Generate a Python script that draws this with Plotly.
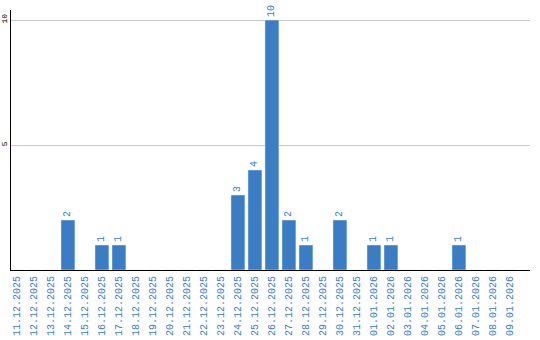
import plotly.graph_objects as go

dates = ["11.12.2025","12.12.2025","13.12.2025","14.12.2025","15.12.2025","16.12.2025",
         "17.12.2025","18.12.2025","19.12.2025","20.12.2025","21.12.2025","22.12.2025",
         "23.12.2025","24.12.2025","25.12.2025","26.12.2025","27.12.2025","28.12.2025",
         "29.12.2025","30.12.2025","31.12.2025","01.01.2026","02.01.2026","03.01.2026",
         "04.01.2026","05.01.2026","06.01.2026","07.01.2026","08.01.2026","09.01.2026"]
counts = [0,0,0,2,0,1,1,0,0,0,0,0,0,3,4,10,2,1,0,2,0,1,1,0,0,0,1,0,0,0]
y_ticks = [5, 10]

blue = "#3b7dc3"
labels = [str(v) if v else "" for v in counts]
mono = "Liberation Mono"

fig = go.Figure(go.Bar(
    x=list(range(len(dates))), y=counts, marker_color=blue, width=0.82,
    text=labels, textposition="outside", textangle=-90,
    textfont=dict(family=mono, size=10, color=blue),
    cliponaxis=False,
))
fig.update_layout(
    width=540, height=340, margin=dict(l=11, r=10, t=10, b=70),
    plot_bgcolor="white", paper_bgcolor="white", showlegend=False,
    xaxis=dict(range=[-0.35, 30.18], tickvals=list(range(len(dates))), ticktext=dates,
               tickangle=-90, tickfont=dict(family=mono, size=10, color=blue),
               showline=True, linecolor="black", linewidth=1, showgrid=False, ticks="",
               zeroline=False, automargin=False, ticklabelstandoff=1),
    yaxis=dict(range=[0, 10.4], tickvals=y_ticks, tickangle=-90,
               tickfont=dict(family=mono, size=8, color="black"),
               showline=True, linecolor="black", linewidth=1, showgrid=True,
               gridcolor="#c8c8c8", ticks="", zeroline=False, automargin=False,
               ticklabelstandoff=0),
)
fig.write_html("out.html")
